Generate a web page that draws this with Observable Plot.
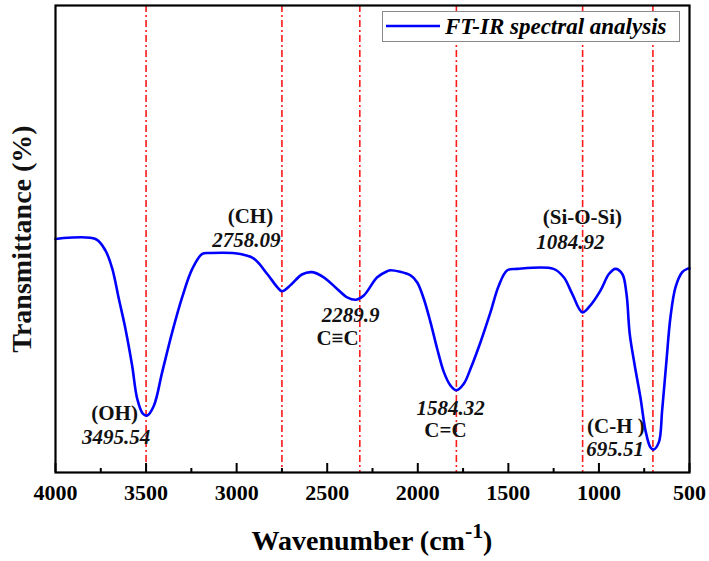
<!DOCTYPE html>
<html>
<head>
<meta charset="utf-8">
<script src="https://cdn.jsdelivr.net/npm/d3@7"></script>
<script src="https://cdn.jsdelivr.net/npm/@observablehq/plot@0.6"></script>
<style>
  html, body { margin: 0; padding: 0; background: #fff; }
  #wrap { position: relative; width: 709px; height: 561px; font-family: "Liberation Serif", "Times New Roman", serif; }
  #legend { position: absolute; left: 382px; top: 11px; width: 298px; height: 31px;
            border: 1px solid #8a8a8a; background: #fff; box-sizing: border-box; }
  #legend svg { position: absolute; left: 2px; top: 0; }
  #legend span { position: absolute; left: 62px; top: 1px; font-size: 23px; font-weight: bold; font-style: italic; white-space: nowrap; line-height: 27px; }
  #xtitle { position: absolute; left: 55px; width: 634px; top: 524px; height: 37px; text-align: center;
            font-size: 28px; font-weight: bold; line-height: 34px; }
  #xtitle sup { font-size: 0.78em; line-height: 0; position: relative; top: -0.1em; }
</style>
</head>
<body>
<div id="wrap"></div>
<script>
// FT-IR spectrum, wavenumber (cm^-1) against relative transmittance
const wavenumber = [4000, 3779, 3724, 3687, 3651, 3614, 3577, 3549, 3518, 3494, 3457, 3411, 3356, 3301, 3245, 3190, 3144, 2979, 2905, 2831, 2776, 2750, 2700, 2640, 2583, 2519, 2445, 2390, 2340, 2298, 2224, 2169, 2151, 2040, 2003, 1967, 1930, 1893, 1856, 1819, 1787, 1746, 1709, 1654, 1599, 1553, 1506, 1451, 1251, 1194, 1148, 1092, 1047, 991, 945, 909, 871, 848, 830, 804, 771, 743, 716, 699, 669, 651, 627, 605, 577, 540, 513, 500];
const transmittance = [50.0, 50.0, 47.5, 43.7, 37.3, 30.8, 22.9, 15.8, 12.6, 12.2, 14.3, 21.5, 30.0, 37.5, 43.6, 46.8, 47.0, 46.8, 45.8, 42.5, 39.7, 38.8, 40.2, 42.4, 42.9, 41.8, 39.3, 37.5, 37.0, 37.9, 41.8, 43.1, 43.3, 42.2, 40.7, 37.2, 32.2, 26.5, 21.5, 18.6, 17.6, 19.0, 22.2, 27.9, 34.3, 40.0, 43.3, 43.6, 43.6, 41.8, 38.3, 34.3, 35.8, 39.0, 42.5, 43.6, 42.5, 38.3, 29.7, 23.3, 16.1, 9.0, 5.4, 4.9, 6.5, 13.3, 24.0, 33.3, 39.7, 42.9, 43.6, 43.7];

// marker lines through the absorption bands
const bandLines = [3500, 2750, 2320, 1787, 1090, 702];

// band annotations: assignment and quoted wavenumber
const groupText = ["(OH)", "(CH)", "C≡C", "C=C", "(Si-O-Si)", "(C-H )"];
const groupX = [3674, 2924, 2443, 1847, 1091, 906];
const groupY = [12.6, 54.8, 28.7, 9.0, 54.6, 10.0];
const peakText = ["3495.54", "2758.09", "2289.9", "1584.32", "1084.92", "695.51"];
const peakX = [3666, 2946, 2371, 1819, 1157, 911];
const peakY = [7.5, 49.7, 33.6, 13.7, 49.3, 4.9];

const majorTicks = [4000, 3500, 3000, 2500, 2000, 1500, 1000, 500];
const minorTicks = [3750, 3250, 2750, 2250, 1750, 1250, 750];

const spectrum = wavenumber.map((w, i) => ({w, t: transmittance[i]}));
const groups = groupText.map((s, i) => ({s, x: groupX[i], y: groupY[i]}));
const peaks = peakText.map((s, i) => ({s, x: peakX[i], y: peakY[i]}));

const chart = Plot.plot({
  width: 709,
  height: 522,
  marginLeft: 55,
  marginRight: 20,
  marginTop: 5,
  marginBottom: 50,
  style: {fontFamily: "'Liberation Serif', 'Times New Roman', serif", background: "#fff", color: "#000"},
  x: {domain: [4000, 500]},
  y: {domain: [0, 100], axis: null},
  marks: [
    Plot.ruleX(bandLines, {x: d => d, stroke: "#ff1a1a", strokeWidth: 1.6, strokeDasharray: "7,3,2,3"}),
    Plot.line(spectrum, {x: "w", y: "t", stroke: "#0000ff", strokeWidth: 2.6, curve: "catmull-rom"}),
    Plot.tickX(majorTicks, {x: d => d, insetTop: 458, stroke: "#000", strokeWidth: 2}),
    Plot.tickX(minorTicks, {x: d => d, insetTop: 463, stroke: "#000", strokeWidth: 2}),
    Plot.axisX({ticks: majorTicks, tickSize: 0, tickPadding: 12, tickFormat: "d", fontSize: 22, fontWeight: "bold", label: null}),
    Plot.frame({stroke: "#000", strokeWidth: 2.2}),
    Plot.text(groups, {x: "x", y: "y", text: "s", fontSize: 21, fontWeight: "bold", fill: "#111"}),
    Plot.text(peaks, {x: "x", y: "y", text: "s", fontSize: 21, fontWeight: "bold", fontStyle: "italic", fill: "#111"}),
    Plot.text(["Transmittance (%)"], {frameAnchor: "left", textAnchor: "middle", rotate: -90, dx: -33, fontSize: 28, fontWeight: "bold", fill: "#111"})
  ]
});

const wrap = document.getElementById("wrap");
wrap.appendChild(chart);

const legend = document.createElement("div");
legend.id = "legend";
legend.innerHTML = '<svg width="58" height="28"><line x1="1" y1="14" x2="55" y2="14" stroke="#0000ff" stroke-width="2.6"/></svg><span>FT-IR spectral analysis</span>';
wrap.appendChild(legend);

const xt = document.createElement("div");
xt.id = "xtitle";
xt.innerHTML = "Wavenumber (cm<sup>-1</sup>)";
wrap.appendChild(xt);
</script>
</body>
</html>
